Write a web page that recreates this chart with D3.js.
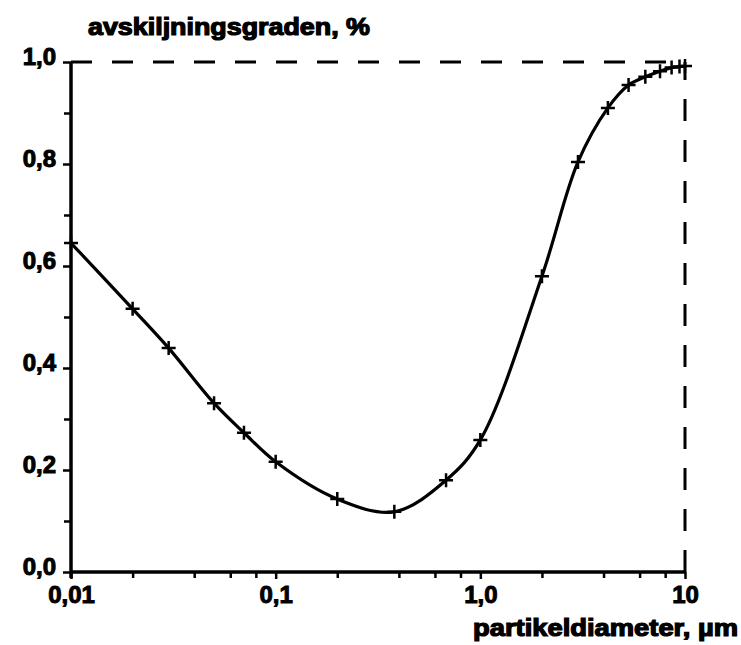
<!DOCTYPE html>
<html>
<head>
<meta charset="utf-8">
<script src="https://cdn.jsdelivr.net/npm/d3@7"></script>
<style>
  html, body { margin: 0; padding: 0; background: #fff; }
  svg { display: block; }
  text { font-family: "Liberation Sans", Arial, sans-serif; font-weight: bold; fill: #000; }
</style>
</head>
<body>
<svg id="chart" width="741" height="645"></svg>
<script>
// ---- data ----
const diameters  = [0.01, 0.02, 0.03, 0.05, 0.07, 0.1, 0.2, 0.38, 0.68, 1.0, 2.0, 3.0, 4.2, 5.3, 6.4, 7.55, 8.6, 9.4, 10];
const efficiency = [0.645, 0.516, 0.439, 0.331, 0.273, 0.216, 0.143, 0.118, 0.18, 0.259, 0.58, 0.804, 0.91, 0.955, 0.971, 0.982, 0.989, 0.991, 0.992];
const xTickValues = [0.01, 0.1, 1, 10];
const xTickLabels = ["0,01", "0,1", "1,0", "10"];
const xMinorTicks = [0.02, 0.04, 0.06, 0.08, 0.2, 0.4, 0.6, 0.8, 2, 4, 6, 8];
const yTickValues = [0, 0.2, 0.4, 0.6, 0.8, 1.0];
const yTickLabels = ["0,0", "0,2", "0,4", "0,6", "0,8", "1,0"];
const yMinorTicks = [0.1, 0.3, 0.5, 0.7, 0.9];
const yTitle = "avskiljningsgraden, %";
const xTitle = "partikeldiameter, µm";

const svg = d3.select("#chart");
const x = d3.scaleLog().domain([0.01, 10]).range([71, 685]);
const y = d3.scaleLinear().domain([0, 1]).range([572, 62]);

// dashed reference lines
svg.append("line")
  .attr("x1", x(0.01)).attr("x2", x(10)).attr("y1", y(1)).attr("y2", y(1))
  .attr("stroke", "#000").attr("stroke-width", 3).attr("stroke-dasharray", "21,20");
svg.append("line")
  .attr("x1", x(10)).attr("x2", x(10)).attr("y1", y(0)).attr("y2", y(1))
  .attr("stroke", "#000").attr("stroke-width", 3).attr("stroke-dasharray", "22,19");

const labelStyle = sel => sel.attr("font-size", 24)
  .attr("font-family", "Liberation Sans, Arial, sans-serif").attr("font-weight", "bold")
  .attr("stroke", "#000").attr("stroke-width", 1);

// y axis
const yAxis = d3.axisLeft(y).tickValues(yTickValues).tickFormat((d, i) => yTickLabels[i])
  .tickSize(8).tickPadding(7);
const gy = svg.append("g").attr("transform", `translate(${x(0.01)},0)`).call(yAxis);
gy.select(".domain").remove();
gy.selectAll(".tick line").attr("stroke-width", 2.5);
gy.selectAll(".tick text").call(labelStyle).attr("dy", "0.12em");
const yAxisMinor = d3.axisLeft(y).tickValues(yMinorTicks).tickFormat("").tickSize(7);
const gym = svg.append("g").attr("transform", `translate(${x(0.01)},0)`).call(yAxisMinor);
gym.select(".domain").remove();
gym.selectAll(".tick line").attr("stroke-width", 2.5);
svg.append("line").attr("x1", x(0.01)).attr("x2", x(0.01)).attr("y1", y(1)).attr("y2", y(0) + 6)
  .attr("stroke", "#000").attr("stroke-width", 3.5);

// x axis
const xAxis = d3.axisBottom(x).tickValues(xTickValues).tickFormat((d, i) => xTickLabels[i])
  .tickSize(7).tickPadding(7);
const gx = svg.append("g").attr("transform", `translate(0,${y(0)})`).call(xAxis);
gx.select(".domain").remove();
gx.selectAll(".tick line").attr("stroke-width", 2.5);
gx.selectAll(".tick text").call(labelStyle);
const xAxisMinor = d3.axisBottom(x).tickValues(xMinorTicks).tickFormat("").tickSize(6);
const gxm = svg.append("g").attr("transform", `translate(0,${y(0)})`).call(xAxisMinor);
gxm.select(".domain").remove();
gxm.selectAll(".tick line").attr("stroke-width", 2.5);
svg.append("line").attr("x1", x(0.01)).attr("x2", x(10)).attr("y1", y(0)).attr("y2", y(0))
  .attr("stroke", "#000").attr("stroke-width", 3.5);

// curve
const pts = diameters.map((d, i) => [d, efficiency[i]]);
const line = d3.line().x(d => x(d[0])).y(d => y(d[1])).curve(d3.curveCatmullRom.alpha(0.5));
svg.append("path").datum(pts).attr("d", line)
  .attr("fill", "none").attr("stroke", "#000").attr("stroke-width", 3.2);

// plus markers
const s = 7;
svg.append("g").selectAll("path").data(pts).join("path")
  .attr("d", d => {
    const px = x(d[0]), py = y(d[1]);
    return `M${px - s},${py}H${px + s}M${px},${py - s}V${py + s}`;
  })
  .attr("stroke", "#000").attr("stroke-width", 2.5).attr("fill", "none");

// titles
svg.append("text").attr("x", 88).attr("y", 35).attr("font-size", 23)
  .attr("textLength", 282).attr("lengthAdjust", "spacingAndGlyphs")
  .attr("stroke", "#000").attr("stroke-width", 1.2).text(yTitle);
svg.append("text").attr("x", 473).attr("y", 636).attr("font-size", 23)
  .attr("textLength", 265).attr("lengthAdjust", "spacingAndGlyphs")
  .attr("stroke", "#000").attr("stroke-width", 1.2).text(xTitle);
</script>
</body>
</html>
